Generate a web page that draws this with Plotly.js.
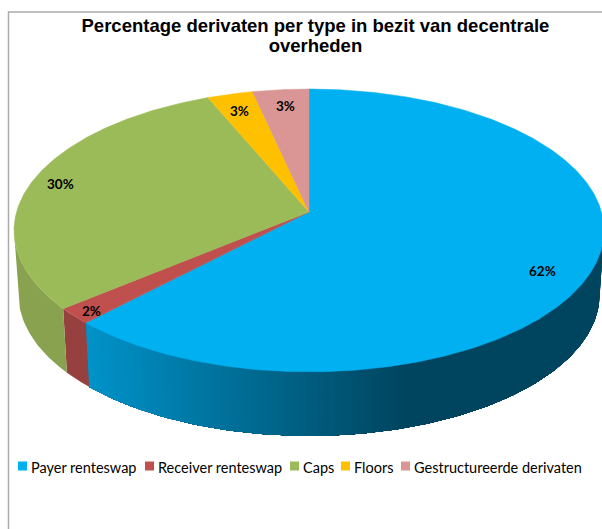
<!DOCTYPE html>
<html>
<head>
<meta charset="utf-8">
<script src="https://cdn.plot.ly/plotly-3.0.1.min.js"></script>
<style>html,body{margin:0;padding:0;background:#fff;overflow:hidden}</style>
</head>
<body>
<div id="chart" style="width:602px;height:529px"></div>
<script>
// ---- data ----
const categories = ['Payer renteswap', 'Receiver renteswap', 'Caps', 'Floors', 'Gestructureerde derivaten'];
const shares = [62.15, 1.85, 29.67, 2.84, 3.49];
const chartTitle = 'Percentage derivaten per type in bezit van decentrale<br>overheden';

// ---- styling ----
const topColors = ['#00B0F0', '#C0504D', '#9BBB59', '#FFC000', '#D99694'];
const wallColors = [null, '#964140', '#88A24F', '#C79600', '#A97573'];
const labelPlaces = [[542, 271], [91, 310.5], [60, 184], [239, 110.5], [285, 105.5]];
const legendPlaces = [18, 145, 290, 341, 401];

// ---- perspective projection of the pie disc ----
const cx = 309, cy = 212, A = 292.5, B = 139, k = 0.1304, depth = 64, shrink = 0.985;
const rad = d => d * Math.PI / 180;
function topPt(deg) {
  const u = Math.sin(rad(deg)), v = Math.cos(rad(deg)), w = 1 + k * v;
  return [cx + A * u / w, cy - B * v / w];
}
function bottomPt(deg) {
  const p = topPt(deg);
  return [cx + (p[0] - cx) * shrink, p[1] + depth];
}
const total = shares.reduce((a, b) => a + b, 0);
let run = 0;
const slices = shares.map(s => {
  const from = run / total * 360; run += s;
  return [from, run / total * 360];
});

const rightEdgeDeg = Math.acos(-k) * 180 / Math.PI;   // right silhouette angle
const leftEdgeDeg = 360 - rightEdgeDeg;               // left silhouette angle

function poly(pts, color, name) {
  return {
    type: 'scatter', mode: 'lines', x: pts.map(p => p[0]), y: pts.map(p => p[1]),
    fill: 'toself', fillcolor: color, line: {color: color, width: 0},
    hoverinfo: 'skip', showlegend: false, name: name
  };
}
function wallBand(a, z, n) {
  const pts = [];
  for (let j = 0; j <= n; j++) pts.push(topPt(a + (z - a) * j / n));
  for (let j = n; j >= 0; j--) pts.push(bottomPt(a + (z - a) * j / n));
  pts.push(pts[0]);
  return pts;
}
function blueShade(x) {
  const t = Math.max(0, Math.min(1, (x - 88) / (405 - 88)));
  const g = Math.round(146 + (69 - 146) * t), b = Math.round(200 + (95 - 200) * t);
  return `rgb(0,${g},${b})`;
}

const traces = [];
// walls: the gradient wall is painted as overlapping bands, each reaching to its far end,
// so no seam can show between neighbouring shades
slices.forEach((sl, i) => {
  const a = Math.max(sl[0], rightEdgeDeg), z = Math.min(sl[1], leftEdgeDeg);
  if (z <= a) return;
  if (i === 0) {
    for (let d = a; d < z; d += 1) {
      const pts = wallBand(d, z, Math.max(2, Math.ceil(z - d)));
      traces.push(poly(pts, blueShade(topPt(d + 0.5)[0]), categories[i]));
    }
  } else {
    traces.push(poly(wallBand(a, z, 40), wallColors[i], categories[i]));
  }
});
// top faces
slices.forEach((sl, i) => {
  const pts = [[cx, cy]];
  const n = Math.max(4, Math.ceil((sl[1] - sl[0]) / 0.5));
  for (let j = 0; j <= n; j++) pts.push(topPt(sl[0] + (sl[1] - sl[0]) * j / n));
  pts.push([cx, cy]);
  const t = poly(pts, topColors[i], categories[i]);
  t.line.width = 0.5;
  traces.push(t);
});

const annotations = shares.map((s, i) => ({
  xref: 'x', yref: 'y', x: labelPlaces[i][0], y: labelPlaces[i][1], showarrow: false,
  text: Math.round(s) + '%', font: {family: 'Lato, sans-serif', size: 13.5, weight: 'bold', color: '#000'}
}));
categories.forEach((c, i) => annotations.push({
  xref: 'x', yref: 'y', x: legendPlaces[i] + 13, y: 467, xanchor: 'left', showarrow: false,
  xshift: -2, text: c, font: {family: 'Lato, sans-serif', size: 14.5, color: '#000'}
}));

const shapes = [
  {type: 'rect', xref: 'x', yref: 'y', x0: 8.5, x1: 700, y0: 12, y1: 700, line: {color: '#ABABAB', width: 1.5}, layer: 'below'}
];
categories.forEach((c, i) => shapes.push({
  type: 'rect', xref: 'x', yref: 'y', x0: legendPlaces[i], x1: legendPlaces[i] + 9, y0: 461.5, y1: 470.5,
  fillcolor: topColors[i], line: {width: 0}
}));

const layout = {
  width: 602, height: 529, margin: {l: 0, r: 0, t: 0, b: 0},
  paper_bgcolor: '#fff', plot_bgcolor: '#fff', showlegend: false,
  title: {text: chartTitle, x: 0.524, xanchor: 'center', y: 0.94, yanchor: 'top',
          font: {family: 'Liberation Sans, Arial, sans-serif', size: 18.5, weight: 'bold', color: '#000'}},
  xaxis: {range: [0, 602], visible: false, fixedrange: true},
  yaxis: {range: [529, 0], visible: false, fixedrange: true},
  shapes, annotations
};
Plotly.newPlot('chart', traces, layout, {displayModeBar: false, responsive: false}).then(() => {
  // the reference sets its two title lines closer than Plotly's fixed line height
  const lines = document.querySelectorAll('.gtitle .line');
  if (lines.length === 2) {
    const y0 = parseFloat(lines[0].getAttribute('y'));
    lines[1].removeAttribute('dy');
    lines[1].setAttribute('y', y0 + 20);
  }
});
</script>
</body>
</html>
